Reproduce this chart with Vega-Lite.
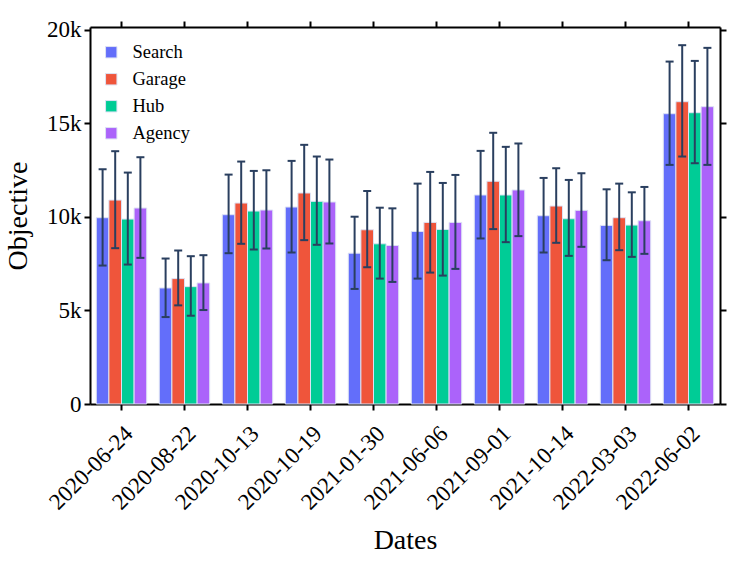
{
  "$schema": "https://vega.github.io/schema/vega-lite/v6.json",
  "width": 630,
  "height": 377,
  "autosize": {"type": "none"},
  "padding": {"left": 90, "top": 27, "right": 27, "bottom": 157},
  "background": "white",
  "data": {
    "values": [
      {"date": "2020-06-24", "series": "Search", "value": 9957, "lo": 7400, "hi": 12547},
      {"date": "2020-06-24", "series": "Garage", "value": 10900, "lo": 8328, "hi": 13512},
      {"date": "2020-06-24", "series": "Hub", "value": 9884, "lo": 7453, "hi": 12369},
      {"date": "2020-06-24", "series": "Agency", "value": 10474, "lo": 7811, "hi": 13190},
      {"date": "2020-08-22", "series": "Search", "value": 6202, "lo": 4647, "hi": 7775},
      {"date": "2020-08-22", "series": "Garage", "value": 6702, "lo": 5272, "hi": 8204},
      {"date": "2020-08-22", "series": "Hub", "value": 6273, "lo": 4718, "hi": 7900},
      {"date": "2020-08-22", "series": "Agency", "value": 6470, "lo": 5022, "hi": 7954},
      {"date": "2020-10-13", "series": "Search", "value": 10117, "lo": 8060, "hi": 12261},
      {"date": "2020-10-13", "series": "Garage", "value": 10741, "lo": 8562, "hi": 12958},
      {"date": "2020-10-13", "series": "Hub", "value": 10313, "lo": 8257, "hi": 12458},
      {"date": "2020-10-13", "series": "Agency", "value": 10367, "lo": 8311, "hi": 12493},
      {"date": "2020-10-19", "series": "Search", "value": 10527, "lo": 8097, "hi": 12994},
      {"date": "2020-10-19", "series": "Garage", "value": 11278, "lo": 8758, "hi": 13852},
      {"date": "2020-10-19", "series": "Hub", "value": 10831, "lo": 8508, "hi": 13227},
      {"date": "2020-10-19", "series": "Agency", "value": 10796, "lo": 8579, "hi": 13066},
      {"date": "2021-01-30", "series": "Search", "value": 8060, "lo": 6150, "hi": 10010},
      {"date": "2021-01-30", "series": "Garage", "value": 9312, "lo": 7310, "hi": 11385},
      {"date": "2021-01-30", "series": "Hub", "value": 8562, "lo": 6702, "hi": 10492},
      {"date": "2021-01-30", "series": "Agency", "value": 8472, "lo": 6524, "hi": 10457},
      {"date": "2021-06-06", "series": "Search", "value": 9223, "lo": 6702, "hi": 11779},
      {"date": "2021-06-06", "series": "Garage", "value": 9706, "lo": 7024, "hi": 12404},
      {"date": "2021-06-06", "series": "Hub", "value": 9330, "lo": 6863, "hi": 11815},
      {"date": "2021-06-06", "series": "Agency", "value": 9706, "lo": 7221, "hi": 12243},
      {"date": "2021-09-01", "series": "Search", "value": 11171, "lo": 8847, "hi": 13529},
      {"date": "2021-09-01", "series": "Garage", "value": 11904, "lo": 9348, "hi": 14496},
      {"date": "2021-09-01", "series": "Hub", "value": 11171, "lo": 8651, "hi": 13744},
      {"date": "2021-09-01", "series": "Agency", "value": 11439, "lo": 8973, "hi": 13924},
      {"date": "2021-10-14", "series": "Search", "value": 10063, "lo": 8097, "hi": 12083},
      {"date": "2021-10-14", "series": "Garage", "value": 10581, "lo": 8615, "hi": 12601},
      {"date": "2021-10-14", "series": "Hub", "value": 9902, "lo": 7918, "hi": 11976},
      {"date": "2021-10-14", "series": "Agency", "value": 10349, "lo": 8401, "hi": 12333},
      {"date": "2022-03-03", "series": "Search", "value": 9545, "lo": 7685, "hi": 11475},
      {"date": "2022-03-03", "series": "Garage", "value": 9957, "lo": 8221, "hi": 11779},
      {"date": "2022-03-03", "series": "Hub", "value": 9563, "lo": 7864, "hi": 11314},
      {"date": "2022-03-03", "series": "Agency", "value": 9795, "lo": 8025, "hi": 11601},
      {"date": "2022-06-02", "series": "Search", "value": 15516, "lo": 12780, "hi": 18302},
      {"date": "2022-06-02", "series": "Garage", "value": 16158, "lo": 13227, "hi": 19178},
      {"date": "2022-06-02", "series": "Hub", "value": 15570, "lo": 12869, "hi": 18338},
      {"date": "2022-06-02", "series": "Agency", "value": 15891, "lo": 12780, "hi": 19035}
    ]
  },
  "encoding": {
    "x": {
      "field": "date",
      "type": "nominal",
      "title": "Dates",
      "scale": {"paddingInner": 0.2, "paddingOuter": 0.1}
    },
    "xOffset": {
      "field": "series",
      "type": "nominal",
      "sort": ["Search", "Garage", "Hub", "Agency"]
    }
  },
  "layer": [
    {
      "mark": {"type": "bar", "stroke": "#dde2f4", "strokeWidth": 1},
      "encoding": {
        "y": {
          "field": "value",
          "type": "quantitative",
          "title": "Objective",
          "scale": {"domain": [0, 20150], "nice": false, "zero": true},
          "axis": {
            "values": [0, 5000, 10000, 15000, 20000],
            "format": "~s",
            "labelExpr": "datum.value == 0 ? '0' : datum.label",
            "labelPadding": 3,
            "titlePadding": 14
          }
        },
        "color": {
          "field": "series",
          "type": "nominal",
          "scale": {
            "domain": ["Search", "Garage", "Hub", "Agency"],
            "range": ["#636EFA", "#EF553B", "#00CC96", "#AB63FA"]
          },
          "legend": {
            "title": null,
            "orient": "none",
            "legendX": 12,
            "legendY": 16,
            "symbolType": "square",
            "symbolSize": 130,
            "symbolStrokeColor": "#dde2f4",
            "symbolStrokeWidth": 1,
            "symbolOpacity": 1,
            "labelFontSize": 18.5,
            "labelOffset": 12,
            "rowPadding": 8,
            "labelFont": "Liberation Serif",
            "labelColor": "black"
          }
        }
      }
    },
    {
      "mark": {"type": "rule", "color": "#2A3F5F", "strokeWidth": 2},
      "encoding": {
        "x": {"field": "date", "type": "nominal", "axis": null},
        "y": {"field": "lo", "type": "quantitative", "axis": null},
        "y2": {"field": "hi"}
      }
    },
    {
      "mark": {"type": "tick", "color": "#2A3F5F", "thickness": 2, "size": 8, "opacity": 1},
      "encoding": {
        "x": {"field": "date", "type": "nominal", "axis": null},
        "y": {"field": "lo", "type": "quantitative", "axis": null}
      }
    },
    {
      "mark": {"type": "tick", "color": "#2A3F5F", "thickness": 2, "size": 8, "opacity": 1},
      "encoding": {
        "x": {
          "field": "date",
          "type": "nominal",
          "axis": {"orient": "top", "labels": false, "title": null}
        },
        "y": {
          "field": "hi",
          "type": "quantitative",
          "axis": {"orient": "right", "labels": false, "title": null, "values": [0, 5000, 10000, 15000, 20000]}
        }
      }
    }
  ],
  "resolve": {"axis": {"x": "independent", "y": "independent"}},
  "config": {
    "font": "Liberation Serif",
    "view": {"stroke": null},
    "axis": {
      "domainColor": "black",
      "domainWidth": 2,
      "tickColor": "black",
      "tickWidth": 2,
      "tickSize": 6,
      "grid": false,
      "labelFont": "Liberation Serif",
      "labelFontSize": 23,
      "labelColor": "black",
      "titleFont": "Liberation Serif",
      "titleFontSize": 28,
      "titleFontWeight": "normal",
      "titleColor": "black"
    },
    "axisX": {"labelAngle": -45, "labelPadding": 12, "titlePadding": 12},
    "legend": {"labelFont": "Liberation Serif"}
  }
}
